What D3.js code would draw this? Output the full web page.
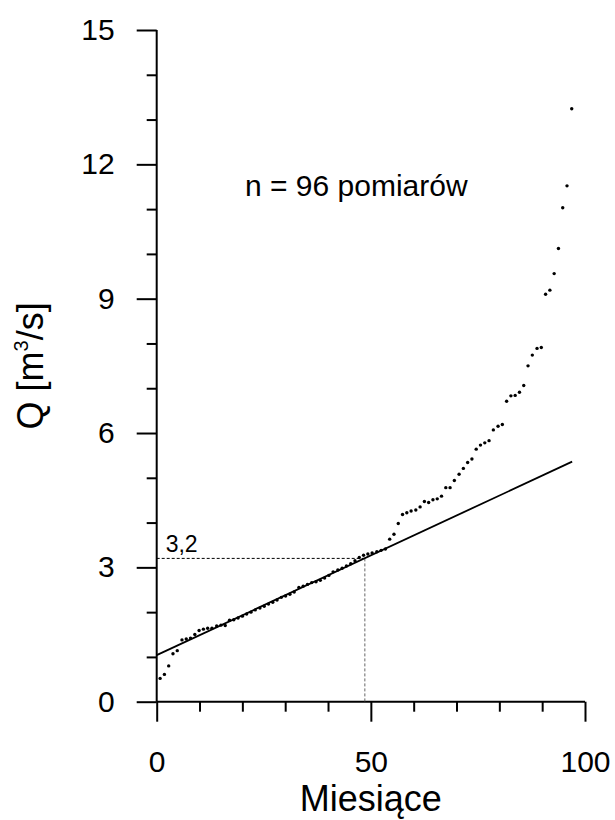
<!DOCTYPE html>
<html lang="pl">
<head>
    <meta charset="UTF-8">
    <title>Q - Miesiące</title>
    <script src="https://d3js.org/d3.v7.min.js"></script>
    <style>
        body { margin: 0; background: #fff; }
        svg { display: block; font-family: "Liberation Sans", Arial, sans-serif; }
        .axis path { display: none; }
        .axis line { stroke: #000; stroke-width: 2; }
        .axis text { fill: #000; font-size: 30px; font-family: "Liberation Sans", Arial, sans-serif; }
    </style>
</head>
<body>
    <svg width="615" height="820"></svg>

    <script>
        // pozycje pomiarów (miesiące) i przepływy Q [m3/s]
        const months = [0.8, 1.8, 2.8, 3.8, 4.8, 5.9, 6.9, 7.9, 8.9, 9.9,
            10.9, 11.9, 12.9, 14.0, 15.0, 16.0, 17.0, 18.0, 19.0, 20.0,
            21.0, 22.0, 23.0, 24.1, 25.1, 26.1, 27.1, 28.1, 29.1, 30.1,
            31.1, 32.1, 33.2, 34.2, 35.2, 36.2, 37.2, 38.2, 39.2, 40.2,
            41.2, 42.3, 43.3, 44.3, 45.3, 46.3, 47.3, 48.3, 49.3, 50.3,
            51.4, 52.4, 53.4, 54.4, 55.4, 56.4, 57.4, 58.4, 59.4, 60.5,
            61.5, 62.5, 63.5, 64.5, 65.5, 66.5, 67.5, 68.5, 69.5, 70.6,
            71.6, 72.6, 73.6, 74.6, 75.6, 76.6, 77.6, 78.6, 79.7, 80.7,
            81.7, 82.7, 83.7, 84.7, 85.7, 86.7, 87.7, 88.8, 89.8, 90.8,
            91.8, 92.8, 93.8, 94.8, 95.8, 96.9];
        const flows = [0.52, 0.61, 0.80, 1.07, 1.14, 1.38, 1.40, 1.42, 1.50, 1.59,
            1.62, 1.64, 1.64, 1.69, 1.71, 1.70, 1.82, 1.83, 1.87, 1.91,
            1.96, 2.00, 2.05, 2.09, 2.13, 2.18, 2.22, 2.27, 2.33, 2.36,
            2.40, 2.45, 2.55, 2.58, 2.62, 2.66, 2.68, 2.71, 2.76, 2.82,
            2.90, 2.94, 2.98, 3.03, 3.08, 3.15, 3.22, 3.27, 3.30, 3.32,
            3.35, 3.38, 3.41, 3.63, 3.74, 3.98, 4.18, 4.22, 4.26, 4.28,
            4.35, 4.47, 4.45, 4.51, 4.53, 4.59, 4.78, 4.78, 4.94, 5.08,
            5.21, 5.34, 5.42, 5.64, 5.73, 5.78, 5.83, 6.07, 6.15, 6.19,
            6.71, 6.83, 6.84, 6.91, 7.06, 7.50, 7.74, 7.89, 7.91, 9.10,
            9.19, 9.56, 10.12, 11.03, 11.52, 13.24];

        // prosta trendu (końce)
        const trendX = [0, 97];
        const trendQ = [1.04, 5.36];

        // wartość odczytana
        const cutX = 48.6;
        const cutQ = 3.2;

        const xTicks = [0, 50, 100];
        const xMinor = [10, 20, 30, 40, 60, 70, 80, 90];
        const yTicks = [0, 3, 6, 9, 12, 15];
        const yMinor = [1, 2, 4, 5, 7, 8, 10, 11, 13, 14];

        const svg = d3.select("svg");

        const x = d3.scaleLinear().domain([0, 100]).range([156.7, 585]);
        const y = d3.scaleLinear().domain([0, 15]).range([701.7, 30]);

        // osie - krótkie podziałki
        svg.append("g")
            .attr("class", "axis")
            .attr("transform", `translate(0,${y(0)})`)
            .call(d3.axisBottom(x).tickValues(xMinor).tickSize(10).tickFormat(""));

        svg.append("g")
            .attr("class", "axis")
            .attr("transform", `translate(${x(0)},0)`)
            .call(d3.axisLeft(y).tickValues(yMinor).tickSize(10).tickFormat(""));

        // osie - główne podziałki
        svg.append("g")
            .attr("class", "axis")
            .attr("transform", `translate(0,${y(0)})`)
            .call(d3.axisBottom(x).tickValues(xTicks).tickSize(20).tickPadding(29));

        svg.append("g")
            .attr("class", "axis")
            .attr("transform", `translate(${x(0)},0)`)
            .call(d3.axisLeft(y).tickValues(yTicks).tickSize(20).tickPadding(22));

        // linie osi
        svg.append("line")
            .attr("x1", x(0)).attr("x2", x(100))
            .attr("y1", y(0)).attr("y2", y(0))
            .attr("stroke", "#000").attr("stroke-width", 2);
        svg.append("line")
            .attr("x1", x(0)).attr("x2", x(0))
            .attr("y1", y(15)).attr("y2", y(0))
            .attr("stroke", "#000").attr("stroke-width", 2);

        // linie pomocnicze
        svg.append("line")
            .attr("x1", x(0)).attr("x2", x(cutX))
            .attr("y1", y(cutQ)).attr("y2", y(cutQ))
            .attr("stroke", "#000").attr("stroke-width", 1)
            .attr("stroke-dasharray", "3,2");
        svg.append("line")
            .attr("x1", x(cutX)).attr("x2", x(cutX))
            .attr("y1", y(cutQ)).attr("y2", y(0))
            .attr("stroke", "#666").attr("stroke-width", 1)
            .attr("stroke-dasharray", "3,2");

        svg.append("text")
            .attr("x", x(0) + 9)
            .attr("y", y(cutQ) - 6)
            .attr("font-size", 23)
            .text("3,2");

        // prosta
        const line = d3.line()
            .x(d => x(d[0]))
            .y(d => y(d[1]));

        svg.append("path")
            .datum(d3.zip(trendX, trendQ))
            .attr("d", line)
            .attr("fill", "none")
            .attr("stroke", "#000")
            .attr("stroke-width", 1.8);

        // punkty
        svg.append("g")
            .selectAll("circle")
            .data(d3.zip(months, flows))
            .join("circle")
            .attr("cx", d => x(d[0]))
            .attr("cy", d => y(d[1]))
            .attr("r", 1.7)
            .attr("fill", "#000");

        // opisy
        svg.append("text")
            .attr("x", 245)
            .attr("y", 196)
            .attr("font-size", 30)
            .text("n = 96 pomiarów");

        svg.append("text")
            .attr("x", x(50))
            .attr("y", 811)
            .attr("text-anchor", "middle")
            .attr("font-size", 36)
            .text("Miesiące");

        const yLabel = svg.append("text")
            .attr("transform", `translate(43,${(y(0) + y(15)) / 2}) rotate(-90)`)
            .attr("text-anchor", "middle")
            .attr("font-size", 36);
        yLabel.append("tspan").text("Q [m");
        yLabel.append("tspan").attr("font-size", 20).attr("dy", -15).text("3");
        yLabel.append("tspan").attr("dy", 15).text("/s]");
    </script>
</body>
</html>
